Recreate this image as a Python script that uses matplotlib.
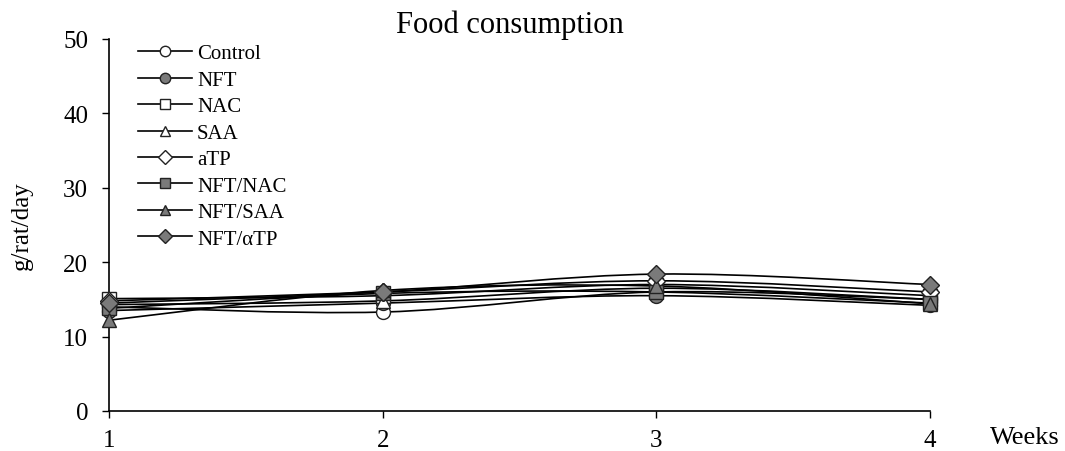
import matplotlib
matplotlib.use("Agg")
import matplotlib.pyplot as plt
import numpy as np
from matplotlib.path import Path
from matplotlib.patches import PathPatch

plt.rcParams["font.family"] = ["Liberation Serif", "DejaVu Serif"]

weeks = [1, 2, 3, 4]
series_names = ["Control", "NFT", "NAC", "SAA", "aTP", "NFT/NAC", "NFT/SAA", "NFT/\u03b1TP"]
control = [14.0, 13.3, 16.0, 15.0]
nft = [13.5, 14.5, 15.5, 14.2]
nac = [15.1, 15.5, 17.0, 15.5]
saa = [14.3, 14.8, 16.5, 15.0]
atp = [14.8, 16.0, 17.5, 16.0]
nft_nac = [13.8, 15.8, 16.0, 14.5]
nft_saa = [12.2, 16.2, 16.8, 14.4]
nft_atp = [14.5, 16.0, 18.4, 17.0]
values = [control, nft, nac, saa, atp, nft_nac, nft_saa, nft_atp]

styles = [("o", "white"), ("o", "#7a7a7a"), ("s", "white"), ("^", "white"),
          ("D", "white"), ("s", "#7a7a7a"), ("^", "#7a7a7a"), ("D", "#7a7a7a")]
sizes = [10, 10, 10, 10, 9, 10, 10, 9]


def smooth_path(x, y, tension=1 / 6):
    # Catmull-Rom style bezier through the points (like Excel's smoothed line)
    pts = np.column_stack([x, y]).astype(float)
    verts = [pts[0]]
    codes = [Path.MOVETO]
    n = len(pts)
    for i in range(n - 1):
        p0 = pts[i - 1] if i > 0 else pts[i]
        p1, p2 = pts[i], pts[i + 1]
        p3 = pts[i + 2] if i + 2 < n else pts[i + 1]
        c1 = p1 + (p2 - p0) * tension
        c2 = p2 - (p3 - p1) * tension
        verts += [c1, c2, p2]
        codes += [Path.CURVE4] * 3
    return Path(verts, codes)


fig = plt.figure(figsize=(10.65, 4.52), dpi=100)
ax = fig.add_axes([109 / 1065, 1 - 412 / 452, 821 / 1065, 372 / 452])

for name, vals, (mk, fc), ms in zip(series_names, values, styles, sizes):
    ax.add_patch(PathPatch(smooth_path(weeks, vals), fill=False, edgecolor="black",
                           lw=1.2, clip_on=False))
    ax.plot(weeks, vals, linestyle="none", marker=mk, markersize=ms,
            markerfacecolor=fc, markeredgecolor="#222222", markeredgewidth=1.0,
            clip_on=False, zorder=3)
    ax.plot([], [], color="black", lw=1.2, marker=mk, markersize=ms * 0.75,
            markerfacecolor=fc, markeredgecolor="#222222", label=name)

ax.set_xlim(1, 4)
ax.set_ylim(0, 50)
ax.set_xticks(weeks)
ax.set_yticks(range(0, 51, 10))
ax.tick_params(labelsize=18, direction="out", length=5, width=1, colors="black")
ax.tick_params(axis="x", pad=8)
ax.tick_params(axis="y", pad=10)
for s in ("top", "right"):
    ax.spines[s].set_visible(False)
for s in ("left", "bottom"):
    ax.spines[s].set_linewidth(1.2)

ax.set_ylabel("g/rat/day", fontsize=18, labelpad=22)
fig.text(510 / 1065, 1 - 25 / 452, "Food consumption", fontsize=22, ha="center", va="center")
fig.text(1025 / 1065, 1 - 438 / 452, "Weeks", fontsize=19, ha="center", va="center")

ax.legend(loc="upper left", bbox_to_anchor=(0.035, 0.987), frameon=False, fontsize=15,
          handlelength=2.6, handletextpad=0.25, labelspacing=0.33,
          borderaxespad=0, borderpad=0)

fig.savefig("out.png", dpi=100)
